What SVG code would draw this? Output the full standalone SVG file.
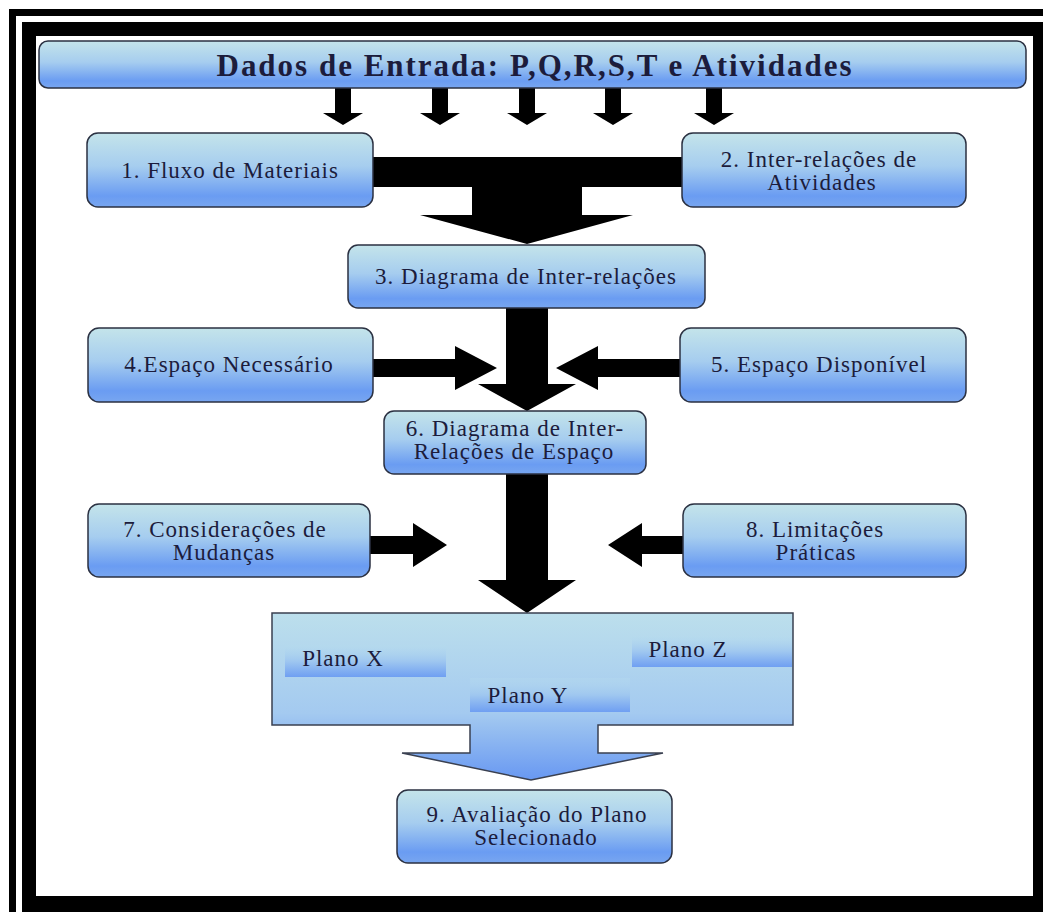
<svg xmlns="http://www.w3.org/2000/svg" width="1043" height="912" viewBox="0 0 1043 912">
<defs>
<linearGradient id="nodeGrad" x1="0" y1="0" x2="0" y2="1">
<stop offset="0" stop-color="#c4e4ea"/>
<stop offset="0.45" stop-color="#a6cdef"/>
<stop offset="0.85" stop-color="#6a9cf2"/>
<stop offset="1" stop-color="#78a6f0"/>
</linearGradient>
<linearGradient id="barGrad" x1="0" y1="0" x2="0" y2="1">
<stop offset="0" stop-color="#b6dbee" stop-opacity="0.3"/>
<stop offset="0.5" stop-color="#9fc7f0"/>
<stop offset="1" stop-color="#6f9ff2"/>
</linearGradient>
<linearGradient id="planGrad" gradientUnits="userSpaceOnUse" x1="0" y1="613" x2="0" y2="780">
<stop offset="0" stop-color="#bcdfec"/>
<stop offset="0.6" stop-color="#a4caf0"/>
<stop offset="1" stop-color="#6898f2"/>
</linearGradient>
<style>
.node{fill:url(#nodeGrad);stroke:#2b3142;stroke-width:1.5}
.t{font-family:"Liberation Serif","Times New Roman",serif;font-size:23px;letter-spacing:1px;fill:#1c1c3c;text-anchor:middle}
.title{font-family:"Liberation Serif","Times New Roman",serif;font-size:31px;font-weight:bold;fill:#1c1c3c;text-anchor:middle}
.arrow{fill:#000}
.bar{fill:url(#barGrad)}
</style>
</defs>
<!-- frame -->
<rect x="9" y="9" width="1100" height="1000" fill="#000"/>
<rect x="16" y="16" width="1100" height="1000" fill="#fff"/>
<rect x="22" y="22" width="1100" height="1000" fill="#000"/>
<rect x="36" y="36" width="997" height="860" fill="#fff"/>

<g id="connectors">
<!-- small input arrows -->
<polygon class="arrow" points="335,88 351,88 351,113 363,113 343,125 323,113 335,113"/>
<polygon class="arrow" points="432,88 448,88 448,113 460,113 440,125 420,113 432,113"/>
<polygon class="arrow" points="519,88 535,88 535,113 547,113 527,125 507,113 519,113"/>
<polygon class="arrow" points="605,88 621,88 621,113 633,113 613,125 593,113 605,113"/>
<polygon class="arrow" points="706,88 722,88 722,113 734,113 714,125 694,113 706,113"/>
<!-- T connector 1,2 -> 3 -->
<polygon class="arrow" points="373,157 682,157 682,187 582,187 582,215 633,215 527,244 420,215 472,215 472,187 373,187"/>
<!-- 3 -> 6 -->
<polygon class="arrow" points="506,308 548,308 548,384 576,384 527,411 478,384 506,384"/>
<!-- 4 -> -->
<polygon class="arrow" points="373,359 455,359 455,346 497,368 455,390 455,377 373,377"/>
<!-- 5 -> -->
<polygon class="arrow" points="680,359 598,359 598,346 556,368 598,390 598,377 680,377"/>
<!-- 6 -> plans -->
<polygon class="arrow" points="506,474 548,474 548,580 576,580 527,613 478,580 506,580"/>
<!-- 7 -> -->
<polygon class="arrow" points="370,536 413,536 413,523 447,545 413,567 413,554 370,554"/>
<!-- 8 -> -->
<polygon class="arrow" points="683,536 642,536 642,523 608,545 642,567 642,554 683,554"/>
</g>

<g id="input">
<rect class="node" x="39" y="41" width="987" height="47" rx="9"/>
<text class="title" x="534" y="76" textLength="635" lengthAdjust="spacing">Dados de Entrada: P,Q,R,S,T e Atividades</text>
</g>
<g id="n1">
<rect class="node" x="87" y="133" width="286" height="74" rx="11"/>
<text class="t" x="230" y="178">1. Fluxo de Materiais</text>
</g>
<g id="n2">
<rect class="node" x="682" y="133" width="284" height="74" rx="11"/>
<text class="t" x="819" y="167">2. Inter-relações de</text>
<text class="t" x="822" y="190">Atividades</text>
</g>
<g id="n3">
<rect class="node" x="348" y="245" width="357" height="63" rx="10"/>
<text class="t" x="526" y="284">3. Diagrama de Inter-relações</text>
</g>
<g id="n4">
<rect class="node" x="88" y="328" width="285" height="74" rx="11"/>
<text class="t" x="229" y="372">4.Espaço Necessário</text>
</g>
<g id="n5">
<rect class="node" x="680" y="328" width="286" height="74" rx="11"/>
<text class="t" x="819" y="372">5. Espaço Disponível</text>
</g>
<g id="n6">
<rect class="node" x="384" y="411" width="262" height="63" rx="10"/>
<text class="t" x="515" y="436">6. Diagrama de Inter-</text>
<text class="t" x="514" y="459">Relações de Espaço</text>
</g>
<g id="n7">
<rect class="node" x="88" y="504" width="282" height="73" rx="11"/>
<text class="t" x="225" y="537">7. Considerações de</text>
<text class="t" x="224" y="560">Mudanças</text>
</g>
<g id="n8">
<rect class="node" x="683" y="504" width="283" height="73" rx="11"/>
<text class="t" x="815" y="537">8. Limitações</text>
<text class="t" x="816" y="560">Práticas</text>
</g>
<g id="plans">
<path d="M272,613 H793 V725 H598 V753 H663 L531,780 L402,753 H470 V725 H272 Z" fill="url(#planGrad)" stroke="#3a4050" stroke-width="1.5"/>
<rect class="bar" x="285" y="645" width="161" height="32"/>
<rect class="bar" x="632" y="636" width="160" height="31"/>
<rect class="bar" x="470" y="678" width="160" height="34"/>
<text class="t" x="343" y="666">Plano X</text>
<text class="t" x="688" y="657">Plano Z</text>
<text class="t" x="528" y="703">Plano Y</text>
</g>
<g id="n9">
<rect class="node" x="397" y="790" width="275" height="73" rx="11"/>
<text class="t" x="537" y="822">9. Avaliação do Plano</text>
<text class="t" x="536" y="845">Selecionado</text>
</g>
</svg>
